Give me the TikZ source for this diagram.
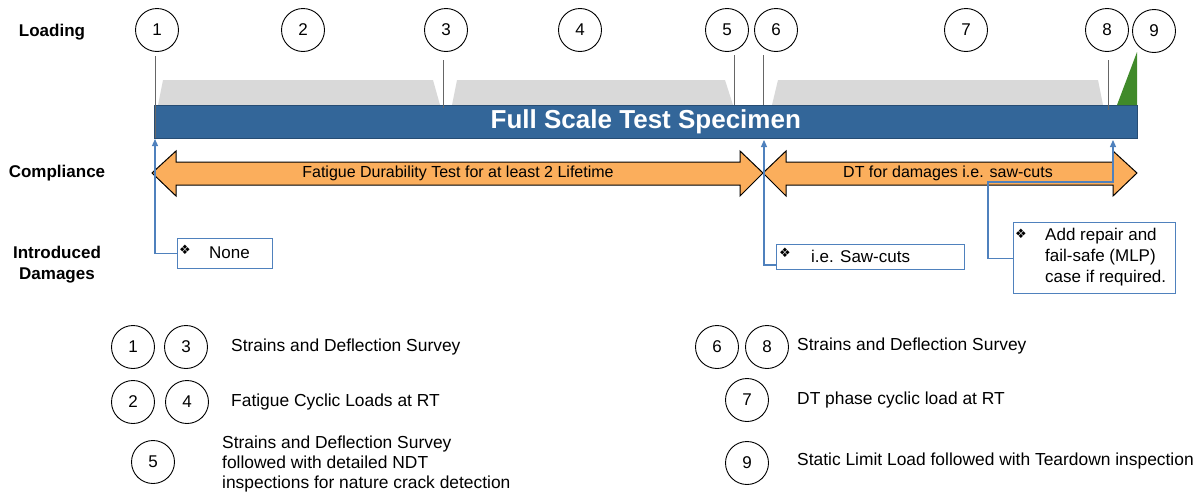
\documentclass[tikz,border=0pt]{standalone}
\usepackage{fontspec}
\setmainfont{Liberation Sans}
\newfontfamily\dv{DejaVu Sans}
\usetikzlibrary{arrows.meta}
\definecolor{barblue}{RGB}{51,102,153}
\definecolor{conblue}{RGB}{79,129,189}
\definecolor{orng}{RGB}{251,174,92}
\definecolor{lgray}{RGB}{217,217,217}
\definecolor{grn}{RGB}{64,138,42}
\tikzset{
  num/.style={circle,draw=black,line width=0.9pt,minimum size=43pt,inner sep=0pt,font=\fontsize{17}{19}\selectfont},
  rowlab/.style={font=\bfseries\fontsize{17}{21}\selectfont,align=center},
  legtxt/.style={anchor=west,font=\fontsize{17.4}{20}\selectfont,align=left,inner sep=0pt},
  boxtxt/.style={anchor=west,font=\fontsize{17}{21}\selectfont,align=left,inner sep=0pt},
  bullet/.style={anchor=center,font=\dv\fontsize{13}{13}\selectfont,inner sep=0pt},
  dmgbox/.style={draw=conblue,line width=1.2pt,fill=white,anchor=north west,inner sep=0pt},
  conn/.style={draw=conblue,line width=1.2pt,-{Triangle[length=7pt,width=6pt]}},
  tickline/.style={draw=black!60,line width=1pt},
  arrowbody/.style={fill=orng,draw=black,line width=1pt,line join=miter},
  arrtxt/.style={font=\fontsize{16}{18}\selectfont,inner sep=0pt},
}
\begin{document}
\begin{tikzpicture}[x=1pt,y=-1pt]
\useasboundingbox (0,0) rectangle (1203,498);

% row labels
\node[rowlab] (lload) at (52,32) {Loading};
\node[rowlab] (lcomp) at (57,173) {Compliance};
\node[rowlab] (ldmg) at (57,265) {Introduced\\Damages};

% top circles
\node[num] (c1) at (157,30) {1};
\node[num] (c2) at (303,30) {2};
\node[num] (c3) at (446,30) {3};
\node[num] (c4) at (580,30) {4};
\node[num] (c5) at (727,30) {5};
\node[num] (c6) at (776,30) {6};
\node[num] (c7) at (966,30) {7};
\node[num] (c8) at (1107,30) {8};
\node[num] (c9) at (1154,31) {9};

% gray load blocks
\fill[lgray] (158,105) -- (163,80) -- (433,80) -- (440,105) -- cycle;
\fill[lgray] (452,105) -- (457,80) -- (725,80) -- (733,105) -- cycle;
\fill[lgray] (772,105) -- (778,80) -- (1098,80) -- (1103,105) -- cycle;

% specimen bar
\node[fill=barblue,draw=barblue!75!black,line width=0.6pt,minimum width=983pt,minimum height=33pt,
      inner sep=0pt,anchor=north west,text=white,font=\bfseries\fontsize{26}{28}\selectfont]
      (bar) at (154,105) {Full Scale Test Specimen};

% green static load triangle
\fill[grn] (1117,105) -- (1137,52) -- (1137,105) -- cycle;

% tick lines
\coordinate (k1a) at (155,56);  \coordinate (k1b) at (155,138);
\coordinate (k3a) at (443,60);  \coordinate (k3b) at (443,108);
\coordinate (k5a) at (734,55);  \coordinate (k5b) at (734,105);
\coordinate (k6a) at (763,55);  \coordinate (k6b) at (763,105);
\coordinate (k8a) at (1108,60); \coordinate (k8b) at (1108,110);
\draw[tickline] (k1a) -- (k1b);
\draw[tickline] (k3a) -- (k3b);
\draw[tickline] (k5a) -- (k5b);
\draw[tickline] (k6a) -- (k6b);
\draw[tickline] (k8a) -- (k8b);

% compliance arrows
\draw[arrowbody] (152,173) -- (176,151) -- (176,162) -- (740,162) -- (740,151) -- (763,173)
   -- (740,196) -- (740,185) -- (176,185) -- (176,196) -- cycle;
\draw[arrowbody] (763,173) -- (786,151) -- (786,162) -- (1113,162) -- (1113,151) -- (1137,173)
   -- (1113,196) -- (1113,185) -- (786,185) -- (786,196) -- cycle;
\node[arrtxt] (fdt) at (458,173) {Fatigue Durability Test for at least 2 Lifetime};
\node[arrtxt] (dtd) at (948,173) {DT for damages i.e. saw-cuts};

% damage boxes
\node[dmgbox,minimum width=95pt,minimum height=30pt] (none) at (177,238) {};
\node[bullet] (b1) at (185,250) {❖};
\node[boxtxt] (t1) at (209,253) {None};

\node[dmgbox,minimum width=188pt,minimum height=25pt] (saw) at (776,244) {};
\node[bullet] (b2) at (785,253) {❖};
\node[boxtxt] (t2) at (811,256) {i.e. Saw-cuts};

\node[dmgbox,minimum width=162pt,minimum height=71pt] (rep) at (1013,222) {};
\node[bullet] (b3) at (1021,234) {❖};
\node[boxtxt] (t3) at (1045,257) {Add repair and\\fail-safe (MLP)\\case if required.};

% connectors
\coordinate (e1) at (155,139);
\coordinate (e6) at (764,140);
\coordinate (e8) at (1113,140);
\coordinate (sawin) at (776,265);
\coordinate (r1) at (988,182);
\draw[conn] (none.west) -| (e1);
\draw[conn] (sawin) -| (e6);
\draw[conn] (rep.west) -| (r1) -| (e8);

% legend
\node[num] (l1) at (133,347) {1};
\node[num] (l3) at (186,347) {3};
\node[legtxt] (lt13) at (231,347) {Strains and Deflection Survey};
\node[num] (l2) at (133,402) {2};
\node[num] (l4) at (187,402) {4};
\node[legtxt] (lt24) at (231,402) {Fatigue Cyclic Loads at RT};
\node[num] (l5) at (153,462) {5};
\node[legtxt] (lt5) at (222,464) {Strains and Deflection Survey\\followed with detailed NDT\\inspections for nature crack detection};

\node[num] (l6) at (717,347) {6};
\node[num] (l8) at (767,347) {8};
\node[legtxt] (lt68) at (797,346) {Strains and Deflection Survey};
\node[num] (l7) at (747,400) {7};
\node[legtxt] (lt7) at (797,400) {DT phase cyclic load at RT};
\node[num] (l9) at (747,463) {9};
\node[legtxt] (lt9) at (797,461) {Static Limit Load followed with Teardown inspection};
\end{tikzpicture}
\end{document}
